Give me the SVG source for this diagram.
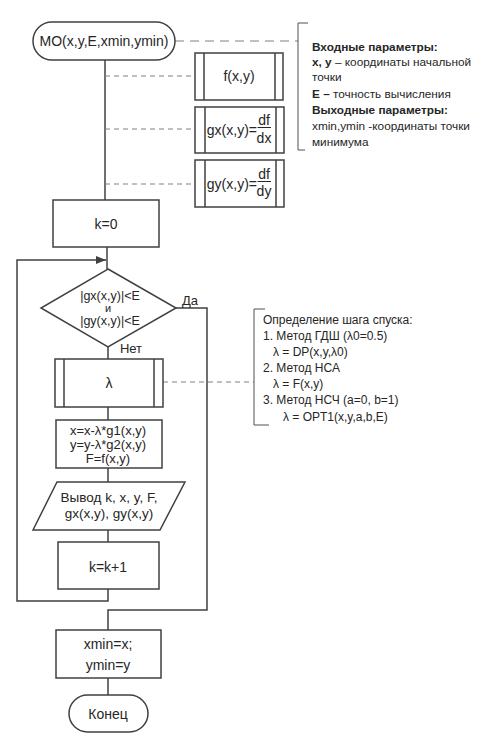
<svg xmlns="http://www.w3.org/2000/svg" width="487" height="735" viewBox="0 0 487 735">
<style>
.s{fill:#fff;stroke:#404040;stroke-width:1.5}
.l{fill:none;stroke:#404040;stroke-width:1.5}
.d{fill:none;stroke:#808080;stroke-width:1;stroke-dasharray:5,4}
.b{fill:none;stroke:#505050;stroke-width:1}
text{font-family:"Liberation Sans",Arial,sans-serif;fill:#262626}
.t{font-size:14px;text-anchor:middle}
.n{font-size:11.8px}
.m{font-size:12px}
.bo{font-weight:bold}
</style>
<defs>
<marker id="ar" markerWidth="10" markerHeight="8" refX="10" refY="4" orient="auto" markerUnits="userSpaceOnUse">
<path d="M0,0 L10,4 L0,8 Z" fill="#404040"/>
</marker>
</defs>
<rect width="487" height="735" fill="#fff"/>
<g id="connectors">
<path class="l" d="M105,60 V200"/>
<path class="l" d="M107,247 V269"/>
<path class="l" d="M108,589 V601 H17 V260 H106" marker-end="url(#ar)"/>
<path class="l" d="M176,308 H207 V610 H108 V630"/>
<path class="l" d="M108,347 V359"/>
<path class="l" d="M108,407 V420"/>
<path class="l" d="M108,468 V482"/>
<path class="l" d="M108,530 V542"/>
<path class="l" d="M108,678 V695"/>
<path class="d" d="M175,41 H298" style="stroke-dasharray:9,6"/>
<path class="d" d="M105,76 H195"/>
<path class="d" d="M105,129 H195"/>
<path class="d" d="M105,184 H195"/>
<path class="d" d="M163,382 H254"/>
</g>
<g id="start">
<rect class="s" x="33" y="22" width="142" height="38" rx="19"/>
<text class="t" x="104" y="46">MO(x,y,E,xmin,ymin)</text>
</g>
<g id="note1">
<path class="b" d="M308,23 H298 V150 H305"/>
<text class="n" x="312" y="51"><tspan class="bo">Входные параметры:</tspan></text>
<text class="n" x="312" y="66"><tspan class="bo">x, y</tspan> – координаты начальной</text>
<text class="n" x="312" y="81">точки</text>
<text class="n" x="312" y="98"><tspan class="bo">E –</tspan> точность вычисления</text>
<text class="n" x="312" y="114"><tspan class="bo">Выходные параметры:</tspan></text>
<text class="n" x="312" y="130">xmin,ymin -координаты точки</text>
<text class="n" x="312" y="146">минимума</text>
</g>
<g id="f">
<rect class="s" x="195" y="53" width="88" height="47"/>
<path class="l" d="M204,53 V100 M275,53 V100"/>
<text class="t" x="239" y="81">f(x,y)</text>
</g>
<g id="gx">
<rect class="s" x="195" y="107" width="89" height="46"/>
<path class="l" d="M205,107 V153 M276,107 V153"/>
<text class="t" x="257" y="135" style="text-anchor:end">gx(x,y)=</text>
<text class="t" x="264" y="125">df</text>
<path d="M257.5,127.5 H271" stroke="#262626" stroke-width="1"/>
<text class="t" x="264" y="143">dx</text>
</g>
<g id="gy">
<rect class="s" x="195" y="160" width="89" height="47"/>
<path class="l" d="M205,160 V207 M276,160 V207"/>
<text class="t" x="257" y="189" style="text-anchor:end">gy(x,y)=</text>
<text class="t" x="264" y="179">df</text>
<path d="M257.5,181.5 H271" stroke="#262626" stroke-width="1"/>
<text class="t" x="264" y="196">dy</text>
</g>
<g id="k0">
<rect class="s" x="53" y="200" width="106" height="47"/>
<text class="t" x="106" y="229">k=0</text>
</g>
<g id="cond">
<polygon class="s" points="108,269 176,308 108,347 41,308"/>
<text class="t" x="110" y="300" style="font-size:12.5px">|gx(x,y)|&lt;E</text>
<text class="t" x="108" y="312" style="font-size:11px">и</text>
<text class="t" x="110" y="325" style="font-size:12.5px">|gy(x,y)|&lt;E</text>
<text class="t" x="190" y="305" style="font-size:13px">Да</text>
<text class="t" x="131" y="353" style="font-size:13px">Нет</text>
</g>
<g id="lambda">
<rect class="s" x="55" y="359" width="108" height="48"/>
<path class="l" d="M64,359 V407 M154,359 V407"/>
<text class="t" x="109" y="388">λ</text>
</g>
<g id="note2">
<path class="b" d="M265,309 H254 V425 H269"/>
<text class="m" x="263" y="324">Определение шага спуска:</text>
<text class="m" x="263" y="340">1. Метод ГДШ  (λ0=0.5)</text>
<text class="m" x="273" y="356">λ = DP(x,y,λ0)</text>
<text class="m" x="263" y="372">2. Метод  НСА</text>
<text class="m" x="273" y="388">λ = F(x,y)</text>
<text class="m" x="263" y="404">3. Метод НСЧ (a=0, b=1)</text>
<text class="m" x="283" y="421">λ = OPT1(x,y,a,b,E)</text>
</g>
<g id="assign">
<rect class="s" x="56" y="420" width="106" height="48"/>
<text class="t" x="108" y="435" style="font-size:13px">x=x-λ*g1(x,y)</text>
<text class="t" x="108" y="449" style="font-size:13px">y=y-λ*g2(x,y)</text>
<text class="t" x="108" y="463" style="font-size:13px">F=f(x,y)</text>
</g>
<g id="output">
<polygon class="s" points="57,482 185,482 160,530 33,530"/>
<text class="t" x="109" y="502" style="font-size:13.5px">Вывод k, x, y, F,</text>
<text class="t" x="109" y="518" style="font-size:13.5px">gx(x,y), gy(x,y)</text>
</g>
<g id="kinc">
<rect class="s" x="58" y="542" width="101" height="47"/>
<text class="t" x="108" y="572">k=k+1</text>
</g>
<g id="xmin">
<rect class="s" x="56" y="630" width="105" height="48"/>
<text class="t" x="108" y="649">xmin=x;</text>
<text class="t" x="108" y="670">ymin=y</text>
</g>
<g id="end">
<rect class="s" x="69" y="695" width="79" height="37" rx="18.5"/>
<text class="t" x="108" y="719">Конец</text>
</g>
</svg>
